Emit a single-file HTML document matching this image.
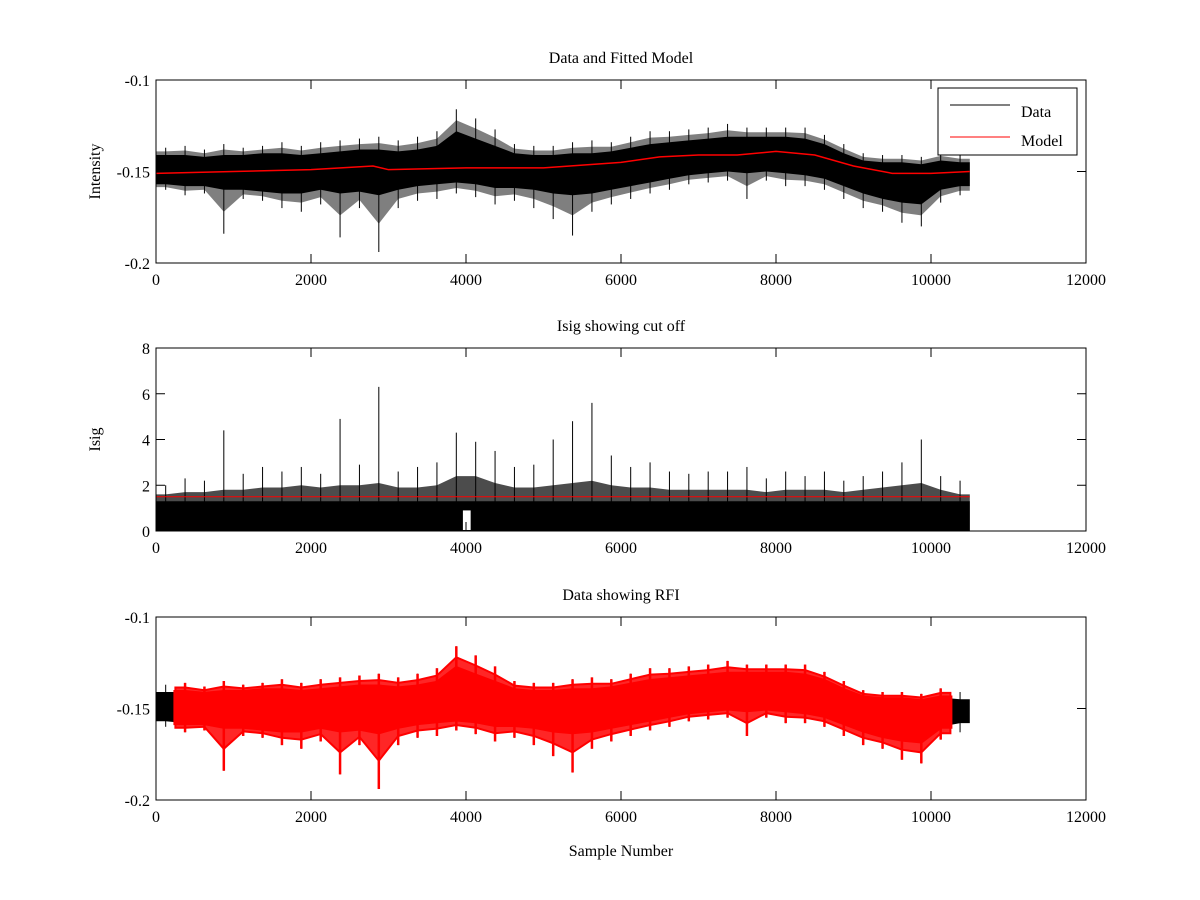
<!DOCTYPE html>
<html><head><meta charset="utf-8"><style>
body{margin:0;background:#fff;}
svg{display:block;font-family:"Liberation Serif",serif;}
</style></head><body>
<svg id="fig" width="1200" height="900"></svg>
<script>
const binStarts=[0,250,500,750,1000,1250,1500,1750,2000,2250,2500,2750,3000,3250,3500,3750,4000,4250,4500,4750,5000,5250,5500,5750,6000,6250,6500,6750,7000,7250,7500,7750,8000,8250,8500,8750,9000,9250,9500,9750,10000,10250];
const dataHi=[-0.137,-0.136,-0.138,-0.135,-0.137,-0.136,-0.134,-0.136,-0.134,-0.133,-0.132,-0.131,-0.133,-0.131,-0.128,-0.116,-0.121,-0.127,-0.135,-0.136,-0.136,-0.134,-0.133,-0.134,-0.131,-0.128,-0.128,-0.127,-0.126,-0.124,-0.126,-0.126,-0.126,-0.126,-0.130,-0.135,-0.140,-0.141,-0.141,-0.142,-0.139,-0.141];
const dataLo=[-0.160,-0.163,-0.162,-0.184,-0.165,-0.166,-0.170,-0.172,-0.168,-0.186,-0.170,-0.194,-0.170,-0.166,-0.165,-0.162,-0.164,-0.168,-0.166,-0.170,-0.176,-0.185,-0.172,-0.168,-0.165,-0.162,-0.160,-0.157,-0.156,-0.155,-0.165,-0.155,-0.158,-0.158,-0.160,-0.165,-0.170,-0.172,-0.178,-0.180,-0.167,-0.163];
const coreHi=[-0.141,-0.141,-0.142,-0.141,-0.141,-0.140,-0.140,-0.141,-0.140,-0.139,-0.138,-0.138,-0.139,-0.138,-0.136,-0.128,-0.132,-0.136,-0.140,-0.141,-0.141,-0.140,-0.140,-0.139,-0.137,-0.135,-0.134,-0.133,-0.132,-0.131,-0.131,-0.131,-0.131,-0.132,-0.135,-0.140,-0.144,-0.145,-0.145,-0.146,-0.144,-0.145];
const coreLo=[-0.157,-0.158,-0.158,-0.160,-0.160,-0.161,-0.162,-0.162,-0.160,-0.162,-0.161,-0.163,-0.160,-0.158,-0.157,-0.156,-0.157,-0.159,-0.159,-0.160,-0.162,-0.163,-0.162,-0.160,-0.158,-0.156,-0.154,-0.152,-0.151,-0.150,-0.151,-0.150,-0.151,-0.152,-0.154,-0.158,-0.162,-0.165,-0.167,-0.168,-0.160,-0.158];
const modelX=[0,1000,2000,2800,3000,4000,5000,6000,6500,7000,7500,8000,8500,9000,9500,10000,10500];
const modelY=[-0.151,-0.150,-0.149,-0.147,-0.149,-0.148,-0.148,-0.145,-0.142,-0.141,-0.141,-0.139,-0.141,-0.147,-0.151,-0.151,-0.150];
const isigHi=[2.0,2.3,2.2,4.4,2.5,2.8,2.6,2.8,2.5,4.9,2.9,6.3,2.6,2.8,3.0,4.3,3.9,3.5,2.8,2.9,4.0,4.8,5.6,3.3,2.8,3.0,2.6,2.5,2.6,2.6,2.8,2.3,2.6,2.4,2.6,2.2,2.4,2.6,3.0,4.0,2.4,2.2];
const isigTyp=[1.6,1.7,1.7,1.8,1.8,1.9,1.9,2.0,1.9,2.0,2.0,2.1,1.9,1.9,2.0,2.4,2.4,2.1,1.9,1.9,2.0,2.1,2.2,2.0,1.9,1.9,1.8,1.8,1.8,1.8,1.8,1.7,1.8,1.8,1.8,1.7,1.8,1.9,2.0,2.1,1.8,1.6];
const isigCore=1.3;
const cutoff=1.5;
const dataEnd=10500;
const xTicks=[0,2000,4000,6000,8000,10000,12000];
const yTicks1=[-0.2,-0.15,-0.1];
const yTicks2=[0,2,4,6,8];
const NS='http://www.w3.org/2000/svg';
const svg=document.getElementById('fig');
function mk(tag,attrs,parent){const e=document.createElementNS(NS,tag);for(const k in attrs)e.setAttribute(k,attrs[k]);(parent||svg).appendChild(e);return e;}
const L=156,R=1086;
function xs(v){return L+(v/12000)*(R-L);}
function makeAxes(top,bot,ymin,ymax,name){
  const g=mk('g',{});
  
  
  return {g,top,bot,ys:v=>bot-(v-ymin)/(ymax-ymin)*(bot-top)};
}
function frame(ax,yt,fmt,title,ylabel,xlabel){
  const g=ax.g;
  const r=mk('rect',{x:L,y:ax.top,width:R-L,height:ax.bot-ax.top,fill:'none',stroke:'#000','stroke-width':1},g);
  
  
  xTicks.forEach(t=>{const x=xs(t);
    mk('line',{x1:x,x2:x,y1:ax.bot,y2:ax.bot-9,stroke:'#000'},g);
    mk('line',{x1:x,x2:x,y1:ax.top,y2:ax.top+9,stroke:'#000'},g);
    const tx=mk('text',{x:x,y:ax.bot+22,'text-anchor':'middle','font-size':16},g);tx.textContent=t;
    
    
  });
  yt.forEach(t=>{const y=ax.ys(t);
    mk('line',{x1:L,x2:L+9,y1:y,y2:y,stroke:'#000'},g);
    mk('line',{x1:R,x2:R-9,y1:y,y2:y,stroke:'#000'},g);
    const tx=mk('text',{x:L-6,y:y+6,'text-anchor':'end','font-size':16},g);tx.textContent=fmt(t);
    
    
  });
  const tt=mk('text',{x:(L+R)/2,y:ax.top-17,'text-anchor':'middle','font-size':16},g);tt.textContent=title;
  
  
  if(ylabel){const yl=mk('text',{x:0,y:0,'text-anchor':'middle','font-size':16,transform:`translate(100,${(ax.top+ax.bot)/2}) rotate(-90)`},g);yl.textContent=ylabel;
    
    }
  if(xlabel){const xl=mk('text',{x:(L+R)/2,y:ax.bot+56,'text-anchor':'middle','font-size':16},g);xl.textContent=xlabel;
    
    }
}
function fmtD(t){return t===-0.15?'-0.15':String(t);}
function band(ax,hi,lo,x0,x1){
  let up=[],dn=[];
  binStarts.forEach((b,i)=>{
    let c=b+125;
    if(c<x0||c>x1)return;
    up.push([xs(c),ax.ys(hi[i])]);dn.push([xs(c),ax.ys(lo[i])]);
  });
  up.unshift([xs(x0),up[0][1]]);dn.unshift([xs(x0),dn[0][1]]);
  up.push([xs(x1),up[up.length-1][1]]);dn.push([xs(x1),dn[dn.length-1][1]]);
  dn.reverse();
  return 'M'+up.concat(dn).map(p=>p[0].toFixed(1)+','+p[1].toFixed(1)).join('L')+'Z';
}
function blend(a,b,f){return a.map((v,i)=>v+(b[i]-v)*f);}
function spikes(ax,hi,lo,x0,x1,color,w,parent){
  binStarts.forEach((b,i)=>{
    const c=b+125;if(c<x0||c>x1)return;
    const l=mk('line',{x1:xs(c),x2:xs(c),y1:ax.ys(hi[i]),y2:ax.ys(lo[i]),stroke:color,'stroke-width':w},parent);
    
    
  });
}
// Plot 1
const a1=makeAxes(80,263,-0.2,-0.1,'data-and-model-plot');
mk('path',{d:band(a1,blend(coreHi,dataHi,0.5),blend(coreLo,dataLo,0.5),0,dataEnd),fill:'#000','fill-opacity':0.5},a1.g);
spikes(a1,dataHi,dataLo,0,dataEnd,'#000',1,a1.g);
const p1=mk('path',{d:band(a1,coreHi,coreLo,0,dataEnd),fill:'#000'},a1.g);


const mp=mk('polyline',{points:modelX.map((x,i)=>xs(x)+','+a1.ys(modelY[i])).join(' '),fill:'none',stroke:'#f00','stroke-width':1.5},a1.g);


frame(a1,yTicks1,fmtD,'Data and Fitted Model','Intensity',null);
const lg=mk('g',{},a1.g);


mk('rect',{x:938,y:88,width:139,height:67,fill:'#fff',stroke:'#000'},lg);
mk('line',{x1:950,x2:1010,y1:105,y2:105,stroke:'#000'},lg);
mk('line',{x1:950,x2:1010,y1:137,y2:137,stroke:'#f00'},lg);
const t1=mk('text',{x:1021,y:117,'font-size':16},lg);t1.textContent='Data';


const t2=mk('text',{x:1021,y:146,'font-size':16},lg);t2.textContent='Model';


// Plot 2
const a2=makeAxes(348,531,0,8,'isig-plot');
const zeros=isigHi.map(()=>0);
const coreArr=isigHi.map(()=>isigCore);
mk('path',{d:band(a2,isigTyp,zeros,0,dataEnd),fill:'#000','fill-opacity':0.7},a2.g);
spikes(a2,isigHi,zeros,0,dataEnd,'#000',1,a2.g);
const p2=mk('path',{d:band(a2,coreArr,zeros,0,dataEnd),fill:'#000'},a2.g);


mk('rect',{x:xs(3960),y:a2.ys(0.9),width:xs(4060)-xs(3960),height:a2.ys(0)-a2.ys(0.9)-1,fill:'#fff'},a2.g);
const cl=mk('line',{x1:xs(0),x2:xs(dataEnd),y1:a2.ys(cutoff),y2:a2.ys(cutoff),stroke:'#f00','stroke-width':1},a2.g);


frame(a2,yTicks2,String,'Isig showing cut off','Isig',null);
// Plot 3
const a3=makeAxes(617,800,-0.2,-0.1,'data-rfi-plot');
mk('path',{d:band(a3,coreHi,coreLo,0,dataEnd),fill:'#000'},a3.g);
spikes(a3,dataHi,dataLo,0,dataEnd,'#000',1,a3.g);
mk('path',{d:band(a3,blend(coreHi,dataHi,0.5),blend(coreLo,dataLo,0.5),250,10250),fill:'#f00','fill-opacity':0.85,stroke:'#f00','stroke-width':2},a3.g);
const p3=mk('path',{d:band(a3,coreHi,coreLo,250,10250),fill:'#f00',stroke:'#f00','stroke-width':4},a3.g);


spikes(a3,dataHi,dataLo,250,10250,'#f00',2.5,a3.g);
frame(a3,yTicks1,fmtD,'Data showing RFI',null,'Sample Number');
</script>
</body></html>
